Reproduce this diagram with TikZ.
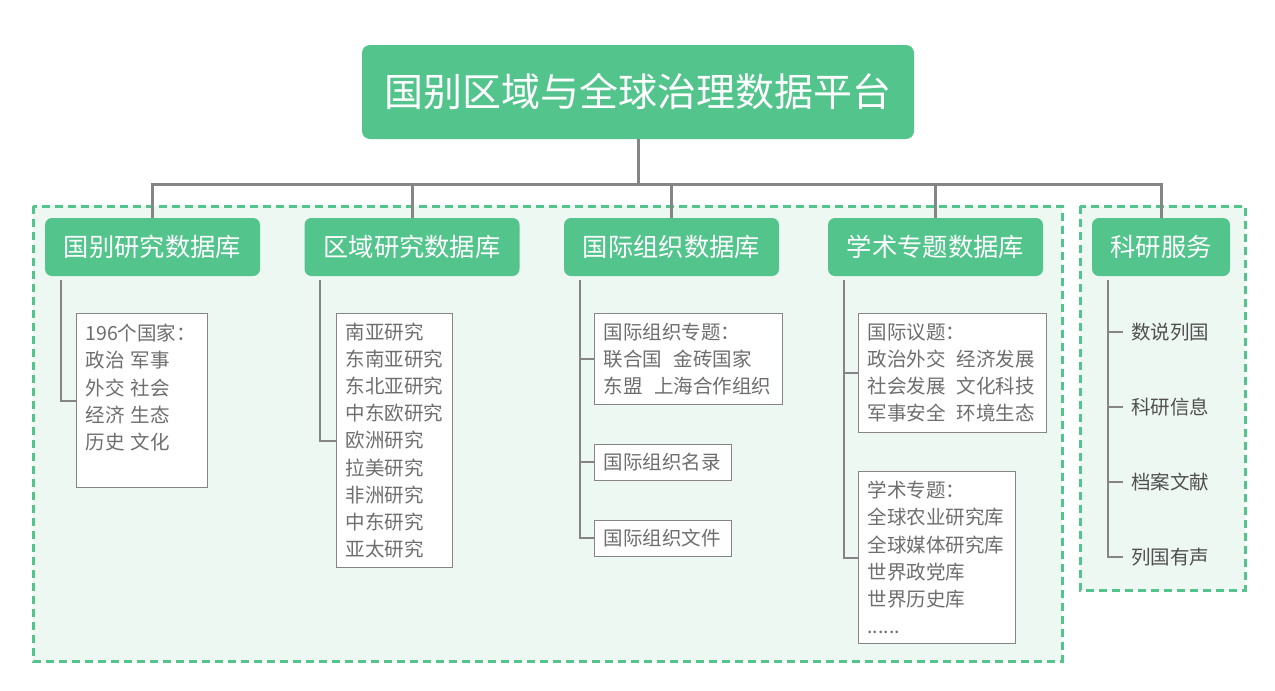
\documentclass[tikz,border=0pt]{standalone}
\usepackage{fontspec}
\setmainfont{Noto Sans CJK SC}

\definecolor{mint}{HTML}{52C48C}
\definecolor{paleMint}{HTML}{EDF8F2}
\definecolor{lineGray}{HTML}{858585}
\definecolor{textGray}{HTML}{6E6E6E}
\definecolor{darkGray}{HTML}{505050}

\begin{document}
\begin{tikzpicture}[x=1pt,
					y=-1pt,
					node distance=75pt,
					root node/.style={fill=mint, rounded corners=8pt, text=white,
						minimum width=552pt, minimum height=94pt,
						font=\fontsize{39pt}{41pt}\selectfont},
					db node/.style={fill=mint, rounded corners=7pt, text=white,
						minimum width=215pt, minimum height=58pt,
						font=\fontsize{25.3pt}{28pt}\selectfont},
					item node/.style={draw=lineGray, line width=1pt, fill=white,
						anchor=north west, align=left, inner xsep=9pt, inner ysep=2pt,
						text=textGray, font=\fontsize{19.5pt}{27.2pt}\selectfont},
					leaf node/.style={anchor=west, inner xsep=8pt, text=darkGray,
						font=\fontsize{19.5pt}{24pt}\selectfont},
					zone/.style={draw=mint, fill=paleMint, line width=3pt,
						dash pattern=on 8pt off 5pt},
					trunk/.style={draw=lineGray, line width=3pt},
					branch/.style={draw=lineGray, line width=2pt}]

  \fill[white] (0,0) rectangle (1275,691);
  \useasboundingbox (0,0) rectangle (1275,691);

  % dashed groups
  \draw[zone] (33,206) rectangle (1062,661);
  \draw[zone] (1080,206) rectangle (1245,590);

  \node[root node] (root) at (638,92) {国别区域与全球治理数据平台};

  \node[db node] (db1) at (152.5,247) {国别研究数据库};
  \node[db node] (db2) at (412,247) {区域研究数据库};
  \node[db node] (db3) at (671.5,247) {国际组织数据库};
  \node[db node] (db4) at (935.5,247) {学术专题数据库};
  \node[db node, minimum width=138pt] (svc) at (1161,247) {科研服务};

  \path[trunk]
    (root.south) -- ++(0,45) -| (db1.north)
    (root.south) -- ++(0,45) -| (db2.north)
    (root.south) -- ++(0,45) -| (db3.north)
    (root.south) -- ++(0,45) -| (db4.north)
    (root.south) -- ++(0,45) -| (svc.north);

  \node[item node, text width=113pt, minimum height=174pt] (country) at (76,313)
    {196个国家：\\政治 军事\\外交 社会\\经济 生态\\历史 文化\\\mbox{}};
  \node[item node, text width=98pt, minimum height=254pt] (region) at (336,313)
    {南亚研究\\东南亚研究\\东北亚研究\\中东欧研究\\欧洲研究\\拉美研究\\非洲研究\\中东研究\\亚太研究};
  \node[item node, text width=170pt, minimum height=91pt] (org1) at (594,313)
    {国际组织专题：\\联合国\hspace{12pt}金砖国家\\东盟\hspace{12pt}上海合作组织};
  \node[item node, text width=119pt, minimum height=35.5pt] (org2) at (594,444) {国际组织名录};
  \node[item node, text width=119pt, minimum height=36pt] (org3) at (594,519.5) {国际组织文件};
  \node[item node, text width=169.5pt, minimum height=118.7pt] (issue) at (858,313)
    {国际议题：\\政治外交\hspace{11pt}经济发展\\社会发展\hspace{11pt}文化科技\\军事安全\hspace{11pt}环境生态};
  \node[item node, text width=138.5pt, minimum height=172pt] (topic) at (858,471)
    {学术专题：\\全球农业研究库\\全球媒体研究库\\世界政党库\\世界历史库\\......};

  \node[leaf node] (leaf1) at (1123,331.7) {数说列国};
  \node[leaf node] (leaf2) [below of=leaf1] {科研信息};
  \node[leaf node] (leaf3) [below of=leaf2] {档案文献};
  \node[leaf node] (leaf4) [below of=leaf3] {列国有声};

  \coordinate (s1) at ([shift={(16,4)}]db1.south west);
  \coordinate (s2) at ([shift={(16,4)}]db2.south west);
  \coordinate (s3) at ([shift={(16,4)}]db3.south west);
  \coordinate (s4) at ([shift={(16,4)}]db4.south west);
  \coordinate (s5) at ([shift={(16,4)}]svc.south west);

  \path[branch]
    (s1) |- (country.west)
    (s2) |- (region.west)
    (s3) |- (org1.west)
    (s3) |- (org2.west)
    (s3) |- (org3.west)
    (s4) |- (issue.west)
    (s4) |- (topic.west)
    (s5) |- (leaf1.west)
    (s5) |- (leaf2.west)
    (s5) |- (leaf3.west)
    (s5) |- (leaf4.west);
\end{tikzpicture}
\end{document}
